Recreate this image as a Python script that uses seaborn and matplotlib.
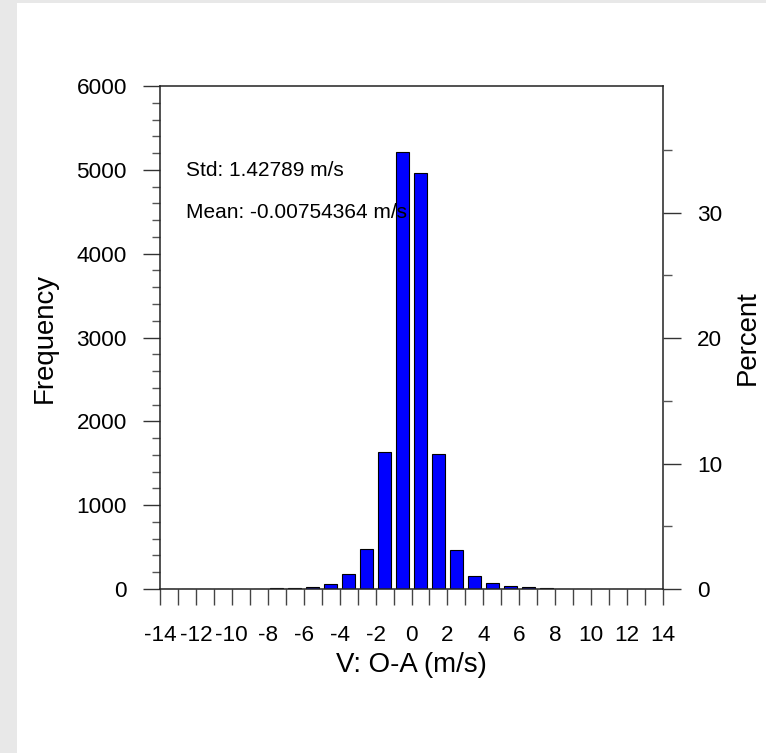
import numpy as np
import pandas as pd
import matplotlib
matplotlib.use("Agg")
import matplotlib.pyplot as plt
from matplotlib.patches import Rectangle
from matplotlib.ticker import MultipleLocator, FixedLocator, FuncFormatter
import seaborn as sns

# Histogram of V observation-minus-analysis departures (m/s), 1 m/s bins
bin_edges = list(range(-14, 15))
frequency = [0, 0, 0, 0, 0, 0,
             16, 12, 29, 62, 181, 477, 1636, 5211,
             4960, 1611, 464, 160, 74, 37, 20, 12,
             0, 0, 0, 0, 0, 0]
percent_major = [0, 10, 20, 30]
percent_minor = [5, 15, 25, 35]
std_text = "Std: 1.42789 m/s"
mean_text = "Mean: -0.00754364 m/s"

centers = [(a + b) / 2 for a, b in zip(bin_edges[:-1], bin_edges[1:])]
df = pd.DataFrame({"v": centers, "count": frequency})
total = sum(frequency)

sns.set_theme(style="ticks")
plt.rcParams["font.family"] = ["Liberation Sans", "DejaVu Sans"]
plt.rcParams["text.color"] = "black"
plt.rcParams["axes.labelcolor"] = "black"
plt.rcParams["xtick.labelcolor"] = "black"
plt.rcParams["ytick.labelcolor"] = "black"

W, H = 766, 753
PT = 72 / 100  # points per pixel at 100 dpi
fig = plt.figure(figsize=(W / 100, H / 100), dpi=100, facecolor="#e8e8e8")
# white page area
fig.add_artist(Rectangle((17 / W, 0), 1 - 17 / W, (H - 3) / H,
                         transform=fig.transFigure, facecolor="white",
                         edgecolor="none", zorder=-10))

left, right, bottom, top = 160, 663, 589, 86
ax = fig.add_axes([left / W, (H - bottom) / H, (right - left) / W, (bottom - top) / H])
ax.set_facecolor("white")

sns.histplot(data=df, x="v", weights="count", bins=bin_edges, shrink=0.7,
             color="#0000ff", alpha=1.0, edgecolor="black", linewidth=0.8, ax=ax)

ax.set_xlim(-14, 14)
ax.set_ylim(0, 6000)

# Left axis: frequency
ax.yaxis.set_major_locator(MultipleLocator(1000))
ax.yaxis.set_minor_locator(MultipleLocator(200))
ax.xaxis.set_major_locator(MultipleLocator(2))
ax.xaxis.set_minor_locator(FixedLocator(list(range(-13, 14, 2))))
ax.xaxis.set_major_formatter(FuncFormatter(lambda v, p: f"{int(round(v))}"))
ax.tick_params(axis="y", which="major", direction="out", length=17 * PT, width=1.0,
               color="#333333", labelsize=16.2, pad=16 * PT, left=True, right=False)
ax.tick_params(axis="y", which="minor", direction="out", length=8 * PT, width=1.0,
               color="#555555", left=True, right=False)
ax.tick_params(axis="x", which="both", direction="out", length=16 * PT, width=1.0,
               color="#444444", labelsize=16.2, pad=20 * PT, top=False, bottom=True)

for s in ax.spines.values():
    s.set_visible(True)
    s.set_linewidth(1.1)
    s.set_color("#222222")

ax.set_xlabel("V: O-A (m/s)", fontsize=19.9, labelpad=0)
ax.set_ylabel("Frequency", fontsize=19.9)
ax.xaxis.label.set_va("center")
ax.xaxis.set_label_coords(0.5, (bottom - 665) / (bottom - top))
ax.yaxis.label.set_va("center")
ax.yaxis.set_label_coords((45 - left) / (right - left), 0.5)

ax.text((186 - left) / (right - left), (bottom - 170) / (bottom - top), std_text,
        transform=ax.transAxes, fontsize=15, ha="left", va="center", zorder=5)
ax.text((186 - left) / (right - left), (bottom - 212) / (bottom - top), mean_text,
        transform=ax.transAxes, fontsize=15, ha="left", va="center", zorder=5)

# Right axis: percent of total count
ax2 = ax.twinx()
ax2.set_ylim(0, 6000 / total * 100)
ax2.yaxis.set_major_locator(FixedLocator(percent_major))
ax2.yaxis.set_minor_locator(FixedLocator(percent_minor))
ax2.yaxis.set_major_formatter(FuncFormatter(lambda v, p: f"{int(round(v))}"))
ax2.tick_params(axis="y", which="major", direction="out", length=18 * PT, width=1.0,
                color="#333333", labelsize=16.2, pad=16 * PT, right=True, left=False)
ax2.tick_params(axis="y", which="minor", direction="out", length=9 * PT, width=1.0,
                color="#555555", right=True, left=False)
ax2.grid(False)
for s in ax2.spines.values():
    s.set_visible(False)
ax2.set_ylabel("Percent", fontsize=19.9)
ax2.yaxis.label.set_va("center")
ax2.yaxis.set_label_coords((748 - left) / (right - left), 0.5)

fig.savefig("out.png", dpi=100, facecolor=fig.get_facecolor())
